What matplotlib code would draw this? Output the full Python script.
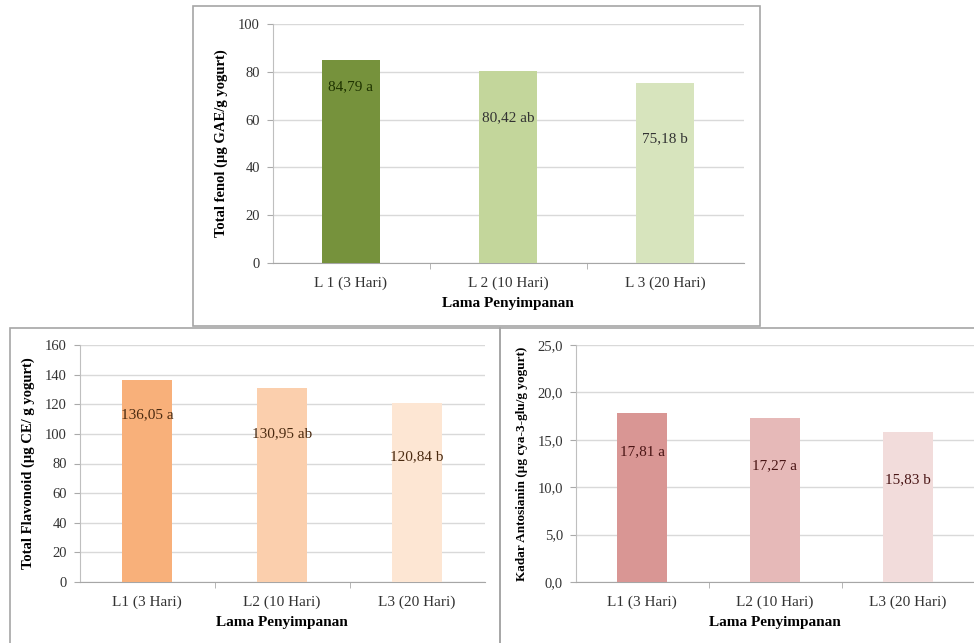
import matplotlib.pyplot as plt
from matplotlib.patches import Rectangle
from matplotlib.ticker import FuncFormatter

plt.rcParams['font.family'] = ['Liberation Serif', 'DejaVu Serif']

# data
fenol_cats = ["L 1 (3 Hari)", "L 2 (10 Hari)", "L 3 (20 Hari)"]
fenol_vals = [84.79, 80.42, 75.18]
fenol_text = ["84,79 a", "80,42 ab", "75,18 b"]
fenol_text_y = [73.6, 60.7, 51.9]

flav_cats = ["L1 (3 Hari)", "L2 (10 Hari)", "L3 (20 Hari)"]
flav_vals = [136.05, 130.95, 120.84]
flav_text = ["136,05 a", "130,95 ab", "120,84 b"]
flav_text_y = [112.7, 99.9, 84.4]

anto_cats = ["L1 (3 Hari)", "L2 (10 Hari)", "L3 (20 Hari)"]
anto_vals = [17.81, 17.27, 15.83]
anto_text = ["17,81 a", "17,27 a", "15,83 b"]
anto_text_y = [13.7, 12.3, 10.8]

W, H = 974, 643
fig = plt.figure(figsize=(W / 100, H / 100), dpi=100)


def px_axes(left, right, top, bottom):
    return fig.add_axes([left / W, 1 - bottom / H, (right - left) / W, (bottom - top) / H])


def box(left, right, top, bottom):
    fig.patches.append(Rectangle((left / W, 1 - bottom / H), (right - left) / W, (bottom - top) / H,
                                 transform=fig.transFigure, fill=False, edgecolor="#a6a6a6", lw=1.2))


def bar_chart(ax, cats, vals, texts, text_y, colors, text_colors, ymax, step, ylabel,
              ylabel_size=10.5, fmt=None):
    x = range(len(cats))
    ax.bar(x, vals, width=0.375, color=colors, zorder=3)
    for i, (t, ty) in enumerate(zip(texts, text_y)):
        ax.text(i, ty, t, ha="center", va="center", fontsize=11, color=text_colors[i], zorder=4)
    ax.set_xlim(-0.5, len(cats) - 0.5)
    ax.set_ylim(0, ymax)
    ax.set_yticks([step * k for k in range(int(round(ymax / step)) + 1)])
    if fmt:
        ax.yaxis.set_major_formatter(FuncFormatter(fmt))
    ax.set_xticks(list(x))
    ax.set_xticklabels(cats, fontsize=11, color="#333333")
    ax.set_xticks([0.5, 1.5], minor=True)
    ax.tick_params(axis="x", which="major", length=0, pad=10)
    ax.tick_params(axis="x", which="minor", length=4, color="#aaaaaa", direction="out")
    ax.tick_params(axis="y", length=4, color="#aaaaaa", labelsize=10.5, labelcolor="#333333", pad=5)
    ax.grid(axis="y", color="#d9d9d9", lw=1, zorder=0)
    for s in ["top", "right"]:
        ax.spines[s].set_visible(False)
    ax.spines["left"].set_color("#bfbfbf")
    ax.spines["bottom"].set_color("#a6a6a6")
    ax.set_xlabel("Lama Penyimpanan", fontsize=11, fontweight="bold", labelpad=5)
    ax.set_ylabel(ylabel, fontsize=ylabel_size, fontweight="bold", labelpad=7)


box(193, 760, 6, 326)
box(10, 500, 328, 650)
box(500, 980, 328, 650)

ax1 = px_axes(272.5, 743.5, 24, 263)
bar_chart(ax1, fenol_cats, fenol_vals, fenol_text, fenol_text_y,
          ["#76923c", "#c3d69b", "#d7e4bd"], ["#1e3300", "#333333", "#333333"],
          100, 20, "Total fenol (µg GAE/g yogurt)", ylabel_size=10.5)

ax2 = px_axes(79.5, 484.5, 345, 582)
bar_chart(ax2, flav_cats, flav_vals, flav_text, flav_text_y,
          ["#f8b07a", "#fbcfad", "#fde6d3"], ["#4a2a10", "#4a2a10", "#4a2a10"],
          160, 20, "Total Flavonoid (µg CE/ g yogurt)", ylabel_size=10.5)

ax3 = px_axes(575.5, 974.5, 345, 582)
bar_chart(ax3, anto_cats, anto_vals, anto_text, anto_text_y,
          ["#d99694", "#e6b9b8", "#f2dcdb"], ["#4a1515", "#4a1515", "#4a1515"],
          25, 5, "Kadar Antosianin (µg cya-3-glu/g yogurt)", ylabel_size=9.5,
          fmt=lambda v, p: f"{v:.1f}".replace(".", ","))

fig.savefig("out.png", dpi=100)
